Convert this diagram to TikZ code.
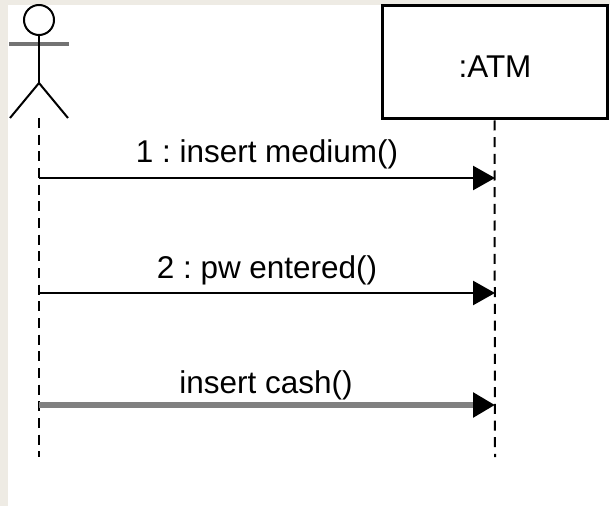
\documentclass[tikz,border=0pt]{standalone}
\usepackage{fontspec}
\setmainfont{Liberation Sans}
\usetikzlibrary{arrows.meta,positioning}
\definecolor{frame}{HTML}{EEEBE4}
\frenchspacing
\tikzset{
  lifeline/.style={line width=1.5pt, dash pattern=on 7.5pt off 5pt},
  msg/.style={line width=1.9pt, -{Triangle[length=16.5pt,width=18pt,color=black]}},
  msglabel/.style={anchor=base, inner sep=0pt, font=\fontsize{23.6}{28}\selectfont},
  objbox/.style={draw, line width=2.25pt, minimum width=168.75pt, minimum height=84.75pt, inner sep=0pt}
}
\begin{document}
\begin{tikzpicture}[x=0.75pt, y=-0.75pt]
\useasboundingbox (0,0) rectangle (610,506);
\fill[frame] (0,0) rectangle (610,506);
\fill[white] (8,5) rectangle (610,506);
\draw[line width=1.5pt] (39,20) circle[radius=11.25pt];
\draw[line width=3pt, black!55] (9,44) -- (69,44);
\draw[line width=1.5pt] (39,35) -- (39,83);
\draw[line width=1.5pt] (10,118) -- (39,83) -- (68,118);
\node (atm) [objbox] at (494.5,62.5) {};
\node (atmname) [msglabel, anchor=center] at (495,67) {:ATM};
\coordinate (actor) at (39,118);
\coordinate (actorend) at (39,457);
\coordinate (atmend) at (495,457);
\draw[lifeline] (actor) -- (actorend);
\draw[lifeline] (atm.south) -- (atmend);
\coordinate (u1) at (39,178);
\coordinate (a1) at (495,178);
\coordinate (u2) at (39,293);
\coordinate (a2) at (495,293);
\coordinate (u3) at (39,405);
\coordinate (a3) at (495,405);
\draw[msg] (u1) -- (a1);
\draw[msg] (u2) -- (a2);
\draw[msg, line width=4.5pt, black!50] (u3) -- (a3);
\node (m1) [msglabel] at (267,163) {1 : insert medium()};
\node (m2) [msglabel] at (267,278) {2 : pw entered()};
\node (m3) [msglabel] at (266,393) {insert cash()};
\end{tikzpicture}
\end{document}
